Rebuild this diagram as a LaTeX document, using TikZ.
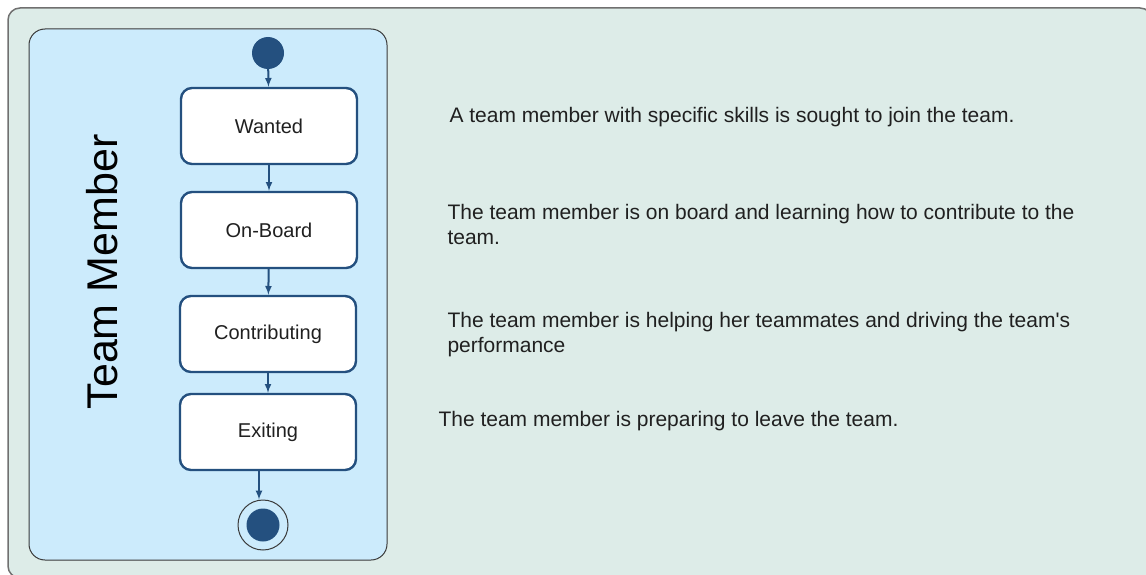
\documentclass[tikz,border=0pt]{standalone}
\usepackage{fontspec}
\setmainfont{Liberation Sans}
\definecolor{panelbg}{HTML}{DDECE8}
\definecolor{panelline}{HTML}{707070}
\definecolor{lanebg}{HTML}{CCEBFC}
\definecolor{laneline}{HTML}{3A3A3A}
\definecolor{stateblue}{HTML}{24507F}
\definecolor{textc}{HTML}{202020}

\begin{document}
\begin{tikzpicture}[x=1pt, y=-1pt,
  state/.style={draw=stateblue, line width=2.4pt, fill=white, rounded corners=11pt,
    minimum width=176pt, minimum height=76pt, font=\fontsize{20}{24}\selectfont, text=textc},
  flow/.style={->, >=latex, stateblue, line width=2pt},
  note/.style={anchor=west, align=left, font=\fontsize{21}{25}\selectfont, text=textc}]
  \clip (0,0) rectangle (1146,575);
  % panels
  \draw[fill=panelbg, draw=panelline, line width=1.5pt, rounded corners=12pt] (8,8) rectangle (1152,578);
  \draw[fill=lanebg, draw=laneline, line width=1pt, rounded corners=16pt] (29,29) rectangle (387,560);
  \node[rotate=90, font=\fontsize{43}{48}\selectfont, text=black] (lane) at (102,272) {Team Member};
  % states
  \node[circle, fill=stateblue, minimum size=32pt, inner sep=0pt] (start) at (268,53) {};
  \node[state] (wanted) at (269,126) {Wanted};
  \node[state] (onboard) at (269,230) {On-Board};
  \node[state] (contrib) at (268,334) {Contributing};
  \node[state] (exiting) at (268,432) {Exiting};
  \node[circle, draw=laneline, line width=1pt, fill=lanebg, minimum size=50pt, inner sep=0pt] (stop) at (263,525) {};
  \node[circle, fill=stateblue, minimum size=33pt, inner sep=0pt] at (stop) {};
  \draw[flow] (start) -- (wanted);
  \draw[flow] (wanted) -- (onboard);
  \draw[flow] (onboard) -- (contrib);
  \draw[flow] (contrib) -- (exiting);
  \draw[flow] (exiting.south -| 259,0) -- (stop.north -| 259,0);
  % descriptions
  \node[note] (d1) at (446,117) {A team member with specific skills is sought to join the team.};
  \node[note] (d2) at (444,224) {The team member is on board and learning how to contribute to the\\team.};
  \node[note] (d3) at (444,335) {The team member is helping her teammates and driving the team\textquotesingle s\\performance};
  \node[note] (d4) at (435,421) {The team member is preparing to leave the team.};
\end{tikzpicture}
\end{document}
